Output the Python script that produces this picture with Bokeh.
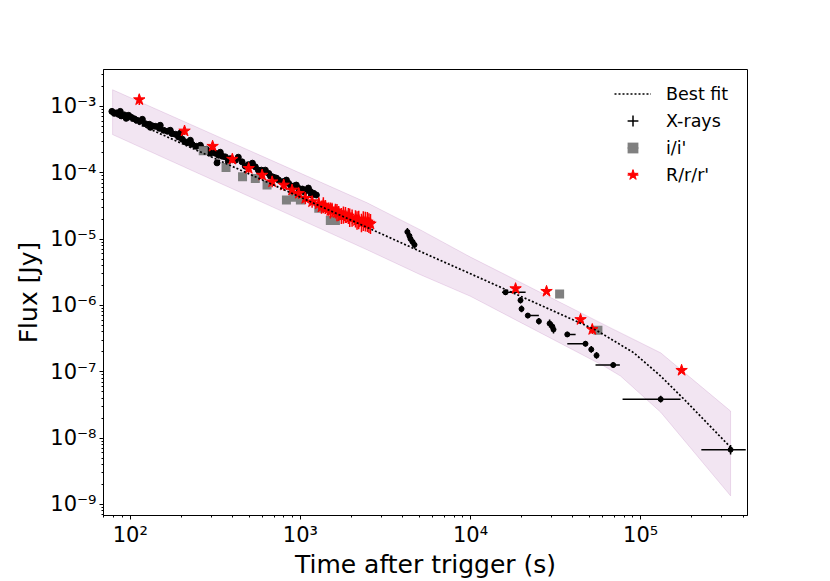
import numpy as np
from bokeh.plotting import figure
from bokeh.models import (ColumnDataSource, FixedTicker, CustomJSTickFormatter,
                          Legend, LegendItem, Range1d)
from bokeh.embed import file_html
from bokeh.resources import INLINE

# ---------------- data (log10 values) ----------------
# early, densely sampled X-ray light curve
xray_early_logt = [1.892, 1.906, 1.918, 1.931, 1.947, 1.965, 1.990, 2.006, 2.024, 2.039,
                   2.059, 2.088, 2.112, 2.129, 2.147, 2.171, 2.196, 2.218, 2.245, 2.265,
                   2.284, 2.306, 2.324, 2.341, 2.363, 2.388, 2.422, 2.447, 2.481, 2.500,
                   2.510, 2.519, 2.541, 2.559, 2.588, 2.618, 2.657, 2.694, 2.735, 2.771,
                   2.814, 2.841, 2.872, 2.900, 2.931, 2.959, 2.990, 3.012, 3.039, 3.059,
                   3.078, 3.094,
                   1.941, 1.976, 2.071, 2.118, 2.176, 2.235, 2.294, 2.353, 2.412, 2.471,
                   2.529, 2.576, 2.635, 2.676, 2.718, 2.753, 2.794, 2.824, 2.859, 2.918,
                   2.947, 2.976, 3.000, 3.047, 3.065, 3.024]
xray_early_logf = [-3.075, -3.105, -3.098, -3.120, -3.143, -3.128, -3.135, -3.165, -3.188, -3.210,
                   -3.225, -3.260, -3.270, -3.293, -3.300, -3.330, -3.360, -3.375, -3.410, -3.420,
                   -3.461, -3.496, -3.536, -3.548, -3.571, -3.601, -3.635, -3.646, -3.661, -3.706,
                   -3.851, -3.736, -3.751, -3.761, -3.788, -3.811, -3.836, -3.878, -3.911, -3.961,
                   -4.011, -4.066, -4.111, -4.134, -4.161, -4.201, -4.236, -4.246, -4.261, -4.284,
                   -4.311, -4.336,
                   -3.075, -3.180, -3.195, -3.315, -3.285, -3.360, -3.405, -3.511, -3.586, -3.706,
                   -3.691, -3.826, -3.766, -3.901, -3.856, -3.961, -3.961, -4.051, -4.081, -4.111,
                   -4.216, -4.186, -4.276, -4.231, -4.336, -4.291]
xray_early_err_dex = 0.035

# later X-ray points (with time bins)
xray_late_logt = [3.629, 3.641, 3.647, 3.659, 3.671,
                  4.206, 4.294, 4.300, 4.337, 4.402, 4.465, 4.481, 4.488, 4.569, 4.676,
                  4.710, 4.741, 4.839, 5.118, 5.529]
xray_late_logf = [-4.892, -4.952, -4.997, -5.042, -5.087,
                  -5.803, -5.923, -6.053, -6.153, -6.239, -6.273, -6.318, -6.363, -6.438, -6.578,
                  -6.664, -6.754, -6.899, -7.414, -8.176]
xray_late_logt_lo = [3.629, 3.641, 3.647, 3.659, 3.671,
                     4.185, 4.294, 4.300, 4.337, 4.402, 4.465, 4.481, 4.488, 4.569, 4.569,
                     4.710, 4.741, 4.735, 4.894, 5.357]
xray_late_logt_hi = [3.629, 3.641, 3.647, 3.659, 3.671,
                     4.324, 4.294, 4.300, 4.402, 4.402, 4.465, 4.481, 4.488, 4.618, 4.676,
                     4.710, 4.741, 4.878, 5.235, 5.618]
xray_late_err_dex = [0.06, 0.06, 0.06, 0.06, 0.06,
                     0.04, 0.05, 0.05, 0.04, 0.05, 0.06, 0.06, 0.06, 0.04, 0.04,
                     0.05, 0.05, 0.04, 0.05, 0.07]

# i/i' band
iband_logt = [2.429, 2.563, 2.660, 2.735, 2.804, 2.918, 2.961, 3.000, 3.108, 3.176, 3.206, 4.524, 4.749]
iband_logf = [-3.668, -3.920, -4.062, -4.086, -4.186, -4.411, -4.371, -4.411, -4.536, -4.719, -4.719, -5.827, -6.374]
iband_err_dex = [0.04, 0.04, 0.04, 0.04, 0.04, 0.04, 0.04, 0.04, 0.04, 0.05, 0.05, 0.03, 0.04]

# R/r/r' band
rband_logt = [2.053, 2.319, 2.484, 2.600, 2.696, 2.775, 2.834, 2.902, 2.951, 2.990,
              3.029, 3.069, 3.108, 3.124, 3.147, 3.165, 3.186, 3.206, 3.225, 3.241,
              3.265, 3.282, 3.304, 3.324, 3.343, 3.359, 3.382, 3.394, 3.412,
              4.265, 4.447, 4.647, 4.716, 5.241,
              3.135, 3.176, 3.215, 3.253, 3.290, 3.333, 3.370, 3.403]
rband_logf = [-2.899, -3.371, -3.601, -3.796, -3.935, -4.036, -4.137, -4.186, -4.261, -4.311,
              -4.386, -4.437, -4.471, -4.517, -4.512, -4.547, -4.562, -4.577, -4.611, -4.652,
              -4.637, -4.652, -4.686, -4.697, -4.712, -4.757, -4.737, -4.742, -4.772,
              -5.748, -5.788, -6.213, -6.363, -6.979,
              -4.490, -4.570, -4.600, -4.640, -4.680, -4.720, -4.730, -4.760]
rband_err_dex = [0.08, 0.06, 0.06, 0.06, 0.07, 0.07, 0.08, 0.08, 0.08, 0.08,
                 0.09, 0.09, 0.10, 0.10, 0.10, 0.10, 0.11, 0.11, 0.11, 0.12,
                 0.12, 0.12, 0.13, 0.13, 0.14, 0.14, 0.15, 0.15, 0.15,
                 0.03, 0.03, 0.03, 0.07, 0.03,
                 0.12, 0.12, 0.13, 0.13, 0.14, 0.14, 0.15, 0.15]

# best-fit model and its uncertainty band
fit_logt = [1.896, 3.706, 4.000, 4.740, 4.959, 5.118, 5.255, 5.529]
fit_logf = [-3.087, -5.188, -5.523, -6.375, -6.713, -7.065, -7.414, -8.140]
band_hi_logt = [1.896, 3.392, 3.706, 4.000, 4.824, 5.118, 5.529]
band_hi_logf = [-2.749, -4.453, -4.862, -5.272, -6.339, -6.715, -7.593]
band_lo_logt = [1.896, 3.392, 3.706, 4.000, 4.784, 4.882, 5.118, 5.529]
band_lo_logf = [-3.425, -5.162, -5.538, -5.863, -6.914, -7.065, -7.610, -8.871]

# axes
x_limits = (69.6, 4.25e5)
y_limits = (6.8e-10, 3.6e-3)
x_tick_values = [1e2, 1e3, 1e4, 1e5]
x_tick_labels = ["10²", "10³", "10⁴", "10⁵"]
y_tick_values = [1e-9, 1e-8, 1e-7, 1e-6, 1e-5, 1e-4, 1e-3]
y_tick_labels = ["10⁻⁹", "10⁻⁸", "10⁻⁷", "10⁻⁶", "10⁻⁵", "10⁻⁴", "10⁻³"]

# ---------------- build sources ----------------
def pw(a):
    return 10.0 ** np.asarray(a, dtype=float)

xe_t, xe_f = pw(xray_early_logt), pw(xray_early_logf)
xe_src = ColumnDataSource(dict(t=xe_t, f=xe_f,
                               flo=xe_f * 10 ** (-xray_early_err_dex),
                               fhi=xe_f * 10 ** (xray_early_err_dex)))
xl_t, xl_f = pw(xray_late_logt), pw(xray_late_logf)
xl_e = np.asarray(xray_late_err_dex)
xl_src = ColumnDataSource(dict(t=xl_t, f=xl_f, tlo=pw(xray_late_logt_lo), thi=pw(xray_late_logt_hi),
                               flo=xl_f * 10 ** (-xl_e), fhi=xl_f * 10 ** xl_e))
i_t, i_f, i_e = pw(iband_logt), pw(iband_logf), np.asarray(iband_err_dex)
i_src = ColumnDataSource(dict(t=i_t, f=i_f, flo=i_f * 10 ** (-i_e), fhi=i_f * 10 ** i_e))
r_t, r_f, r_e = pw(rband_logt), pw(rband_logf), np.asarray(rband_err_dex)
r_src = ColumnDataSource(dict(t=r_t, f=r_f, flo=r_f * 10 ** (-r_e), fhi=r_f * 10 ** r_e))

band_x = list(pw(band_hi_logt)) + list(pw(band_lo_logt))[::-1]
band_y = list(pw(band_hi_logf)) + list(pw(band_lo_logf))[::-1]

# ---------------- figure ----------------
p = figure(width=830, height=581, x_axis_type="log", y_axis_type="log",
           x_range=Range1d(*x_limits), y_range=Range1d(*y_limits),
           output_backend="svg", toolbar_location=None,
           min_border_left=103, min_border_right=83, min_border_top=69, min_border_bottom=64,
           background_fill_color="white", border_fill_color="white")
p.grid.visible = False
p.outline_line_color = "black"
p.outline_line_width = 1
p.outline_line_alpha = 1

p.patch(band_x, band_y, fill_color="purple", fill_alpha=0.1,
        line_color="purple", line_alpha=0.12, line_width=1)

# X-rays
p.segment(x0="t", y0="flo", x1="t", y1="fhi", source=xe_src, line_color="black", line_width=1.4)
p.scatter("t", "f", source=xe_src, marker="circle", size=6, fill_color="black", line_color="black")
p.segment(x0="t", y0="flo", x1="t", y1="fhi", source=xl_src, line_color="black", line_width=1.5)
p.segment(x0="tlo", y0="f", x1="thi", y1="f", source=xl_src, line_color="black", line_width=1.5)
p.scatter("t", "f", source=xl_src, marker="circle", size=5, fill_color="black", line_color="black")

# i/i'
p.segment(x0="t", y0="flo", x1="t", y1="fhi", source=i_src, line_color="grey", line_width=1.5)
p.scatter("t", "f", source=i_src, marker="square", size=9, fill_color="grey", line_color=None)

# R/r/r'
p.segment(x0="t", y0="flo", x1="t", y1="fhi", source=r_src, line_color="red", line_width=1.5)
p.scatter("t", "f", source=r_src, marker="star", size=12, fill_color="red", line_color="red")

# best fit
fit_r = p.line(pw(fit_logt), pw(fit_logf), line_color="black", line_width=1.7, line_dash="2 2")

# ---------------- axes ----------------
def minor(lo, hi):
    out = []
    for v in [10.0 ** k for k in range(-11, 8)]:
        for m in range(2, 10):
            if lo <= v * m <= hi:
                out.append(v * m)
    return out

p.xaxis.ticker = FixedTicker(ticks=x_tick_values, minor_ticks=minor(*x_limits))
p.yaxis.ticker = FixedTicker(ticks=y_tick_values, minor_ticks=minor(*y_limits))
js = """
for (let i = 0; i < vals.length; i++) {
  if (Math.abs(Math.log10(tick) - Math.log10(vals[i])) < 1e-6) { return labels[i]; }
}
return "";
"""
p.xaxis.formatter = CustomJSTickFormatter(args=dict(vals=x_tick_values, labels=x_tick_labels), code=js)
p.yaxis.formatter = CustomJSTickFormatter(args=dict(vals=y_tick_values, labels=y_tick_labels), code=js)

p.xaxis.axis_label = "Time after trigger (s)"
p.yaxis.axis_label = "Flux [Jy]"
for ax in (p.xaxis, p.yaxis):
    ax.axis_label_text_font = "DejaVu Sans"
    ax.axis_label_text_font_size = "25px"
    ax.axis_label_text_font_style = "normal"
    ax.axis_label_text_color = "black"
    ax.major_label_text_font = "DejaVu Sans"
    ax.major_label_text_font_size = "21px"
    ax.major_label_text_color = "black"
    ax.axis_line_color = "black"
    ax.major_tick_line_color = "black"
    ax.minor_tick_line_color = "black"
    ax.major_tick_out = 4
    ax.major_tick_in = 0
    ax.minor_tick_out = 2
    ax.minor_tick_in = 0
    ax.major_label_standoff = 3
p.xaxis.axis_label_standoff = 0
p.yaxis.axis_label_standoff = 4

# ---------------- legend ----------------
def nan_src():
    return ColumnDataSource(dict(x=[np.nan], y=[np.nan]))

lg_x = p.scatter("x", "y", source=nan_src(), marker="cross", size=10,
                 line_color="black", line_width=1.5)
lg_i_bar = p.scatter("x", "y", source=nan_src(), marker="dash", angle=np.pi / 2, size=10,
                     line_color="grey", line_width=1.5)
lg_i = p.scatter("x", "y", source=nan_src(), marker="square", size=10,
                 fill_color="grey", line_color=None)
lg_r_bar = p.scatter("x", "y", source=nan_src(), marker="dash", angle=np.pi / 2, size=10,
                     line_color="red", line_width=1.5)
lg_r = p.scatter("x", "y", source=nan_src(), marker="star", size=10,
                 fill_color="red", line_color="red")

legend = Legend(items=[LegendItem(label="Best fit", renderers=[fit_r]),
                       LegendItem(label="X-rays", renderers=[lg_x]),
                       LegendItem(label="i/i'", renderers=[lg_i_bar, lg_i]),
                       LegendItem(label="R/r/r'", renderers=[lg_r_bar, lg_r])],
                location=(511, 327), glyph_width=37, glyph_height=27, spacing=0,
                padding=0, margin=0, label_standoff=15,
                label_text_font="DejaVu Sans", label_text_font_size="17.5px",
                label_text_color="black",
                border_line_alpha=0, background_fill_alpha=0)
p.add_layout(legend)

open("out.html", "w").write(file_html(p, INLINE))
